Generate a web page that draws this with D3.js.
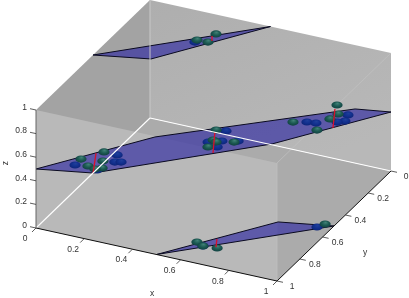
<!DOCTYPE html>
<html><head><meta charset="utf-8">
<script src="https://cdn.jsdelivr.net/npm/d3@7"></script>
<style>html,body{margin:0;padding:0;background:#fff}svg{display:block;filter:blur(.35px)}text{font-family:"Liberation Sans",Arial,sans-serif;font-size:8.5px;fill:#333}</style>
</head><body><div id="c"></div>
<script>
const tickValues = [0,0.2,0.4,0.6,0.8,1];
const tickLabels = ["0","0.2","0.4","0.6","0.8","1"];
const planeMid = [[0,1,.5],[.207,.937,.5],[.71,.43,.5],[1,0,.5],[.868,.036,.5],[.29,.569,.5]];
const planeTop = [[0,.5,1],[.21,.435,1],[.5,0,1]];
const planeBottom = [[.5,1,0],[.797,.561,0],[1,.5,0]];
const bluePoints = [
 [.118,.907,.5],[.225,.764,.5],[.242,.820,.5],[.263,.810,.5],[.210,.908,.5],
 [.509,.409,.5],[.530,.490,.5],[.487,.520,.5],[.535,.542,.5],[.585,.464,.5],
 [.865,.092,.5],[.751,.211,.5],[.785,.204,.5],[.876,.142,.5],[.853,.162,.5],
 [.299,.238,1],[.946,.535,0],[.627,.861,0]];
const greenPoints = [
 [.117,.853,.5],[.170,.763,.5],[.165,.893,.5],[.198,.832,.5],[.220,.885,.5],[.199,.904,.5],
 [.472,.418,.5],[.497,.497,.5],[.514,.507,.5],[.504,.557,.5],[.575,.478,.5],
 [.793,.036,.5],[.828,.101,.5],[.818,.151,.5],[.704,.234,.5],[.813,.254,.5],
 [.299,.220,1],[.342,.144,1],[.343,.217,1],
 [.593,.842,0],[.627,.861,0],[.682,.853,0],[.963,.500,0]];
const stems = [
 [[.147,.784,.5],[.207,.937,.5]],
 [[.475,.435,.5],[.542,.593,.5]],
 [[.800,.069,.5],[.860,.213,.5]],
 [[.336,.166,1],[.353,.203,1]],
 [[.650,.787,0],[.675,.848,0]]];

const W=409,H=298;
const svg=d3.select("#c").append("svg").attr("width",W).attr("height",H);
const xToPx=d3.scaleLinear([0,1],[0,241]), xToPy=d3.scaleLinear([0,1],[0,53]);
const yToPx=d3.scaleLinear([0,1],[0,-114]), yToPy=d3.scaleLinear([0,1],[0,110]);
const zToPy=d3.scaleLinear([0,1],[0,-118]);
const ox=150, oy=118;
const P=([x,y,z])=>[ox+xToPx(x)+yToPx(y), oy+xToPy(x)+yToPy(y)+zToPy(z)];
const path=pts=>"M"+pts.map(p=>P(p).join(",")).join("L")+"Z";
const seg=(a,b)=>"M"+P(a).join(",")+"L"+P(b).join(",");

const defs=svg.append("defs");
function grad(id,stops){
  const g=defs.append("radialGradient").attr("id",id).attr("cx",.5).attr("cy",.5).attr("r",.6).attr("fx",.55).attr("fy",.25);
  stops.forEach(([o,c])=>g.append("stop").attr("offset",o).attr("stop-color",c));
}
grad("gGreen",[[0,"#44847a"],[.5,"#1c5a52"],[1,"#0e3a3c"]]);
grad("gBlue",[[0,"#20409c"],[.5,"#12308e"],[1,"#0c2272"]]);
const gw=defs.append("linearGradient").attr("id","gWall").attr("x1",0).attr("y1",0).attr("x2",.6).attr("y2",1);
gw.append("stop").attr("offset",0).attr("stop-color","#aeaeae");
gw.append("stop").attr("offset",1).attr("stop-color","#b8b8b8");

const face=(pts,fill,op=1)=>svg.append("path").attr("d",path(pts)).attr("fill",fill).attr("fill-opacity",op);
face([[0,0,0],[1,0,0],[1,1,0],[0,1,0]],"#ababab");
face([[0,0,0],[0,1,0],[0,1,1],[0,0,1]],"#a3a3a3");
face([[0,0,0],[1,0,0],[1,0,1],[0,0,1]],"url(#gWall)");
face([[0,1,0],[1,1,0],[1,1,1],[0,1,1]],"#b9b9b9");

const faint=[[[1,1,1],[1,0,1]],[[1,1,0],[1,1,1]]];
svg.selectAll(".fe").data(faint).join("path").attr("d",d=>seg(d[0],d[1]))
  .attr("stroke","#c2c2c2").attr("stroke-width",.7).attr("fill","none");

[planeBottom,planeTop,planeMid].forEach(pl=>{
  svg.append("path").attr("d",path(pl)).attr("fill","#3a35a2").attr("fill-opacity",.72)
    .attr("stroke","#0a0a20").attr("stroke-width",1).attr("stroke-linejoin","round");
});
const ball=(data,fill)=>svg.append("g").selectAll("ellipse").data(data).join("ellipse")
  .attr("cx",d=>P(d)[0]).attr("cy",d=>P(d)[1]).attr("rx",5.6).attr("ry",3.6).attr("fill",fill);
ball(bluePoints,"url(#gBlue)");
ball(greenPoints,"url(#gGreen)");
svg.selectAll(".stem").data(stems).join("path").attr("d",d=>seg(d[0],d[1]))
  .attr("stroke","#d8102c").attr("stroke-width",1.3).attr("fill","none");

svg.append("path").attr("d",seg([0,0,0],[0,0,1])).attr("stroke","#c8c8c8").attr("stroke-width",1).attr("fill","none");
svg.selectAll(".we").data([[[0,0,0],[0,1,0]],[[0,0,0],[1,0,0]]]).join("path").attr("d",d=>seg(d[0],d[1]))
  .attr("stroke","#ffffff").attr("stroke-width",1.1).attr("fill","none");

const ax=(a,b,c)=>svg.append("path").attr("d",seg(a,b)).attr("stroke",c).attr("stroke-width",1).attr("fill","none");
ax([0,1,0],[1,1,0],"#111"); ax([1,1,0],[1,0,0],"#111"); ax([0,1,0],[0,1,1],"#666");
const T=(xy,txt,anchor="middle")=>svg.append("text").attr("x",xy[0]).attr("y",xy[1]).attr("text-anchor",anchor).attr("dominant-baseline","middle").text(txt);
tickValues.forEach((v,i)=>{
  let p=P([v,1,0]);
  svg.append("line").attr("x1",p[0]).attr("y1",p[1]).attr("x2",p[0]-4).attr("y2",p[1]+4).attr("stroke","#333").attr("stroke-width",.8);
  T([p[0]-11,p[1]+11],tickLabels[i]);
  p=P([1,v,0]);
  svg.append("line").attr("x1",p[0]).attr("y1",p[1]).attr("x2",p[0]+6).attr("y2",p[1]+1.3).attr("stroke","#333").attr("stroke-width",.8);
  T([p[0]+15,p[1]+6],tickLabels[i]);
  p=P([0,1,v]);
  svg.append("line").attr("x1",p[0]).attr("y1",p[1]).attr("x2",p[0]-6).attr("y2",p[1]-1.3).attr("stroke","#333").attr("stroke-width",.8);
  T([p[0]-9,p[1]-2.5],tickLabels[i],"end");
});
T([152,294],"x"); T([365,253],"y");
svg.append("text").attr("transform","translate(5.5,163) rotate(-90)").attr("text-anchor","middle").attr("dominant-baseline","middle").text("z");
</script></body></html>
